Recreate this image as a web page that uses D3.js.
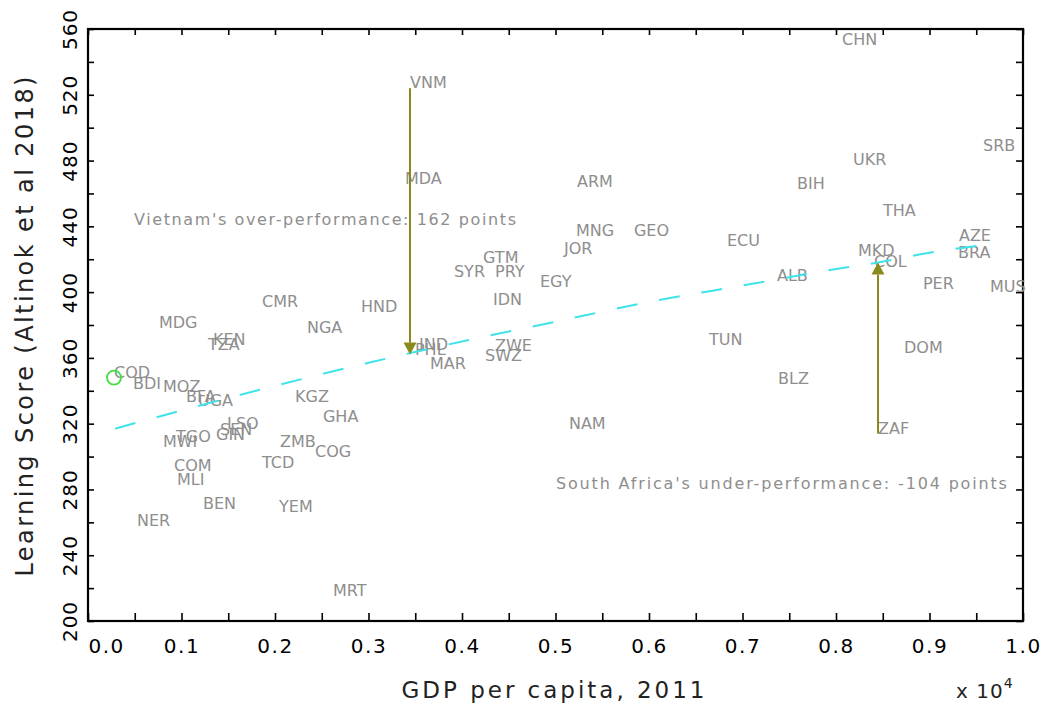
<!DOCTYPE html>
<html><head><meta charset="utf-8">
<script src="https://cdn.jsdelivr.net/npm/d3@7"></script>
<style>body{margin:0;background:#fff} svg{display:block}</style>
</head><body>
<svg id="chart" width="1043" height="707"></svg>
<script>
// ---- data ----
const countries = ["CHN","SRB","UKR","ARM","BIH","THA","MNG","GEO","ECU","JOR","AZE","MKD","BRA","COL","ALB","EGY","PER","MUS","TUN","DOM","BLZ","NAM","ZAF","VNM","MDA","GTM","SYR","PRY","IDN","CMR","HND","MDG","NGA","KEN","TZA","IND","PHL","MAR","ZWE","SWZ","COD","BDI","MOZ","BFA","UGA","KGZ","GHA","LSO","SEN","GIN","TGO","MWI","ZMB","COG","COM","TCD","MLI","BEN","YEM","NER","MRT"];
const gdp = [8064,9572,8182,5230,7583,8503,5219,5839,6834,5091,9315,8235,9305,8406,7369,4834,8930,9647,6642,8727,7380,5144,8449,3444,3390,4225,3914,4353,4331,1861,2920,759,2342,1337,1283,3540,3497,3658,4353,4246,278,481,802,1048,1176,2214,2513,1487,1412,1369,941,802,2053,2428,920,1861,952,1230,2043,524,2620];
const score = [550,486,477,464,463,446,434,434,428,423,431,422,421,415,407,403,402,400,368,363,344,317,314,524,466,418,409,409,392,391,388,378,375,368,365,365,362,353,364,358,348,341,339,333,331,333,321,317,313,310,309,306,306,300,291,293,283,268,266,258,215];

const fitGdp   = [290, 1000, 2000, 3000, 3450, 4000, 5000, 6000, 7000, 8000, 8450, 9000, 9630];
const fitScore = [317, 328, 343, 357, 363, 370, 382, 394, 404, 414, 418, 424, 429];

const arrowCountries = ["VNM", "ZAF"];
const arrowFitted = [362, 418];

const annotations = ["Vietnam's over-performance: 162 points", "South Africa's under-performance: -104 points"];
const annotationGdp = [492, 5005];
const annotationScore = [441, 280];

const highlightCountry = "COD";

const xTickValues = [0,1000,2000,3000,4000,5000,6000,7000,8000,9000,10000];
const xMinorTicks = [0,500,1000,1500,2000,2500,3000,3500,4000,4500,5000,5500,6000,6500,7000,7500,8000,8500,9000,9500,10000];
const yTickValues = [200,240,280,320,360,400,440,480,520,560];
const yMinorTicks = [200,220,240,260,280,300,320,340,360,380,400,420,440,460,480,500,520,540,560];

const xTitle = "GDP per capita, 2011";
const yTitle = "Learning Score (Altinok et al 2018)";

// ---- drawing ----
const svg = d3.select("#chart");
const font = "DejaVu Sans, sans-serif";
const L = 88, R = 1023, T = 29, B = 621;
const x = d3.scaleLinear().domain([0, 10000]).range([L, R]);
const y = d3.scaleLinear().domain([200, 560]).range([B, T]);

const strip = g => g.select(".domain").remove();
const tickStyle = g => g.selectAll(".tick line").attr("stroke", "#000").attr("stroke-width", 1.6);

// ticks (inward) on all four sides
svg.append("g").attr("transform", `translate(0,${B})`)
  .call(d3.axisBottom(x).tickValues(xMinorTicks).tickSize(-8).tickFormat(""))
  .call(strip).call(tickStyle);
svg.append("g").attr("transform", `translate(0,${T})`)
  .call(d3.axisTop(x).tickValues(xMinorTicks).tickSize(-6).tickFormat(""))
  .call(strip).call(tickStyle);
svg.append("g").attr("transform", `translate(${L},0)`)
  .call(d3.axisLeft(y).tickValues(yMinorTicks).tickSize(-6).tickFormat(""))
  .call(strip).call(tickStyle);
svg.append("g").attr("transform", `translate(${R},0)`)
  .call(d3.axisRight(y).tickValues(yMinorTicks).tickSize(-7).tickFormat(""))
  .call(strip).call(tickStyle);

// frame
svg.append("rect").attr("x", L).attr("y", T).attr("width", R - L).attr("height", B - T)
  .attr("fill", "none").attr("stroke", "#000").attr("stroke-width", 2.2);

// x tick labels
svg.append("g").attr("transform", `translate(0,${B})`)
  .call(d3.axisBottom(x).tickValues(xTickValues).tickSize(0).tickPadding(0)
        .tickFormat(d => d3.format(".1f")(d / 10000)))
  .call(strip)
  .call(g => g.selectAll("text")
     .attr("y", 32).attr("dy", 0)
     .attr("font-size", 20).attr("font-family", font)
     .attr("letter-spacing", 1.5).attr("fill", "#000")
     .filter(d => d === 0).attr("text-anchor", "start"));

// y tick labels (rotated)
svg.append("g").attr("transform", `translate(${L},0)`)
  .call(d3.axisLeft(y).tickValues(yTickValues).tickSize(0).tickPadding(0).tickFormat(d3.format("d")))
  .call(strip)
  .call(g => g.selectAll("text")
     .attr("x", 0).attr("dy", 0).attr("text-anchor", "middle")
     .attr("transform", "translate(-11,0) rotate(-90)")
     .attr("font-size", 20).attr("font-family", font)
     .attr("letter-spacing", 1).attr("fill", "#000"));

// axis titles
svg.append("text").text(xTitle)
  .attr("x", 553).attr("y", 698).attr("text-anchor", "middle")
  .attr("font-family", font).attr("font-size", 23).attr("fill", "#222")
  .attr("textLength", 303).attr("lengthAdjust", "spacing");
svg.append("text").text(yTitle)
  .attr("transform", "translate(33,326.5) rotate(-90)").attr("text-anchor", "middle")
  .attr("font-family", font).attr("font-size", 24).attr("fill", "#222")
  .attr("textLength", 500).attr("lengthAdjust", "spacing");
const mult = svg.append("text").attr("x", 956).attr("y", 698)
  .attr("font-family", font).attr("font-size", 20).attr("fill", "#222").attr("letter-spacing", 1);
mult.append("tspan").text("x 10");
mult.append("tspan").text("4").attr("font-size", 14).attr("dy", -10);

// country labels
const pts = countries.map((c, i) => ({c, g: gdp[i], s: score[i]}));
svg.append("g").selectAll("text").data(pts).join("text")
  .attr("x", d => x(d.g)).attr("y", d => y(d.s))
  .text(d => d.c)
  .attr("font-family", font).attr("font-size", 16).attr("fill", "#8e8e8e");

// fitted line
const fit = fitGdp.map((g, i) => [g, fitScore[i]]);
svg.append("path").datum(fit)
  .attr("d", d3.line().x(d => x(d[0])).y(d => y(d[1])).curve(d3.curveMonotoneX))
  .attr("fill", "none").attr("stroke", "#3fe3ea").attr("stroke-width", 2)
  .attr("stroke-dasharray", "21 22");

// arrows
const arrowColor = "#8a8a1c";
arrowCountries.forEach((c, i) => {
  const p = pts.find(d => d.c === c);
  const xp = x(p.g), y0 = y(p.s), y1 = y(arrowFitted[i]);
  const dir = y1 > y0 ? 1 : -1;
  const head = 12, hw = 6.5;
  svg.append("line").attr("x1", xp).attr("x2", xp).attr("y1", y0).attr("y2", y1 - dir * head)
    .attr("stroke", arrowColor).attr("stroke-width", 2);
  svg.append("path")
    .attr("d", `M${xp},${y1} L${xp - hw},${y1 - dir * head} L${xp + hw},${y1 - dir * head} Z`)
    .attr("fill", arrowColor);
});

// highlight circle
const hp = pts.find(d => d.c === highlightCountry);
svg.append("circle").attr("cx", x(hp.g)).attr("cy", y(hp.s)).attr("r", 7)
  .attr("fill", "none").attr("stroke", "#44dd44").attr("stroke-width", 1.8);

// annotations
const annLen = [382, 451];
annotations.forEach((t, i) => {
  svg.append("text").text(t)
    .attr("x", x(annotationGdp[i])).attr("y", y(annotationScore[i]))
    .attr("font-family", font).attr("font-size", 16).attr("fill", "#8e8e8e")
    .attr("textLength", annLen[i]).attr("lengthAdjust", "spacing");
});
</script>
</body></html>
